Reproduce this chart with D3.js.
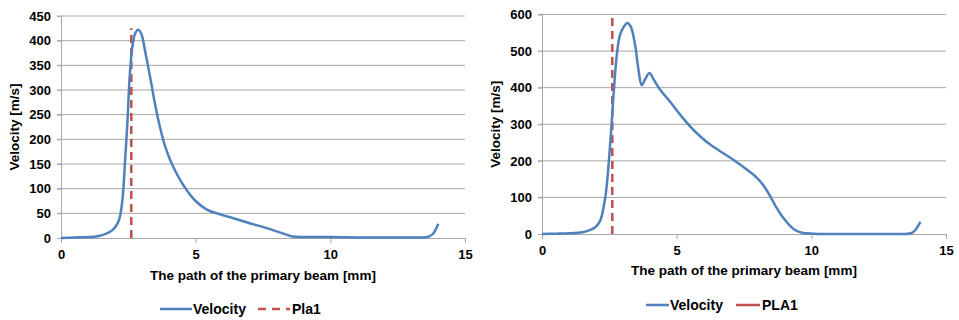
<!DOCTYPE html>
<html>
<head>
<meta charset="utf-8">
<script src="https://cdn.jsdelivr.net/npm/d3@7"></script>
<style>
  body { margin: 0; background: #fff; }
  svg { display: block; font-family: "Liberation Sans", Arial, sans-serif; }
</style>
</head>
<body>
<div id="chart"></div>
<script>
// left panel: velocity along the primary beam (Pla1)
const leftPath = [0, 0.5, 1, 1.41, 1.91, 2.15, 2.28, 2.38, 2.47, 2.55, 2.65, 2.75, 2.86, 2.98, 3.14, 3.33, 3.51, 3.7, 3.89, 4.1, 4.4, 4.67, 5.0, 5.4, 5.9, 6.4, 7.0, 7.64, 8.2, 8.6, 9.0, 10, 11, 12, 13, 13.6, 13.8, 13.9, 14.01];
const leftVel  = [0, 1, 2, 4, 16, 36, 77, 158, 239, 327, 388, 414, 422, 414, 374, 320, 266, 219, 182, 152, 120, 97, 75, 58, 48, 40, 30, 20, 10, 3, 2, 2, 1, 1, 1, 2, 8, 16, 29];
const leftPla = [[2.61, 0], [2.61, 425]];

// right panel: velocity along the primary beam (PLA1)
const rightPath = [0, 0.5, 1, 1.5, 1.75, 2.0, 2.16, 2.35, 2.53, 2.65, 2.78, 2.9, 3.05, 3.17, 3.3, 3.46, 3.58, 3.7, 3.83, 3.99, 4.14, 4.38, 4.75, 5.12, 5.49, 5.86, 6.23, 6.6, 7.1, 7.59, 7.96, 8.21, 8.46, 8.7, 8.95, 9.2, 9.44, 9.69, 10.06, 10.5, 11, 12, 13, 13.7, 13.85, 14.05];
const rightVel  = [0, 1, 2, 5, 10, 20, 36, 100, 245, 373, 491, 545, 568, 577, 566, 515, 450, 407, 423, 440, 423, 395, 362, 327, 295, 268, 245, 227, 203, 177, 155, 134, 105, 73, 45, 23, 9, 3, 1, 0, 0, 0, 0, 2, 10, 33];
const rightPla = [[2.61, 0], [2.61, 600]];

const xTicks = [0, 5, 10, 15];
const leftYTicks = [0, 50, 100, 150, 200, 250, 300, 350, 400, 450];
const rightYTicks = [0, 100, 200, 300, 400, 500, 600];

const xTitle = 'The path of the primary beam [mm]';
const yTitle = 'Velocity [m/s]';

const BLUE = '#4F81BD';
const RED = '#C0504D';
const GRID = '#A6A6A6';
const FONT = '"Liberation Sans", Arial, sans-serif';

const W = 959, H = 320;
const svg = d3.select('#chart').append('svg').attr('width', W).attr('height', H);

function styleAxis(axis) {
  axis.select('.domain').attr('stroke', GRID);
  axis.selectAll('.tick line').attr('stroke', GRID);
  axis.selectAll('text').attr('font-size', 13).attr('font-weight', 'bold')
    .attr('fill', '#000').attr('font-family', FONT);
}

function panel(cfg) {
  const x = d3.scaleLinear().domain([0, 15]).range([cfg.left, cfg.right]);
  const y = d3.scaleLinear().domain([0, cfg.yMax]).range([cfg.bottom, cfg.top]);
  const g = svg.append('g');

  // gridlines
  g.selectAll('.grid').data(cfg.yTicks.filter(d => d > 0)).join('line')
    .attr('x1', cfg.left - 4).attr('x2', cfg.right)
    .attr('y1', d => y(d)).attr('y2', d => y(d))
    .attr('stroke', GRID).attr('stroke-width', 1);

  const yAxis = g.append('g').attr('transform', `translate(${cfg.left},0)`)
    .call(d3.axisLeft(y).tickValues(cfg.yTicks).tickSize(4).tickPadding(6).tickSizeOuter(0));
  styleAxis(yAxis);

  const xAxis = g.append('g').attr('transform', `translate(0,${cfg.bottom})`)
    .call(d3.axisBottom(x).tickValues(xTicks).tickSize(5).tickPadding(7).tickSizeOuter(0));
  styleAxis(xAxis);

  // titles
  g.append('text').attr('x', (cfg.left + cfg.right) / 2).attr('y', cfg.xTitleY)
    .attr('text-anchor', 'middle').attr('font-size', 13.5).attr('font-weight', 'bold').text(xTitle);
  g.append('text').attr('transform', `translate(${cfg.yTitleX},${(cfg.top + cfg.bottom) / 2}) rotate(-90)`)
    .attr('text-anchor', 'middle').attr('font-size', 13.5).attr('font-weight', 'bold').text(yTitle);

  const line = d3.line().x(d => x(d[0])).y(d => y(d[1]));

  // Pla line
  g.append('path').datum(cfg.pla).attr('d', line)
    .attr('fill', 'none').attr('stroke', RED).attr('stroke-width', 2.5).attr('stroke-dasharray', '8,5');

  // velocity curve
  const pts = d3.zip(cfg.xs, cfg.vs);
  g.append('path').datum(pts).attr('d', line.curve(d3.curveCatmullRom.alpha(0.5)))
    .attr('fill', 'none').attr('stroke', BLUE).attr('stroke-width', 2.5).attr('stroke-linejoin', 'round');

  // legend
  const lg = g.append('g').attr('font-size', 14).attr('font-weight', 'bold');
  lg.append('line').attr('x1', cfg.leg[0]).attr('x2', cfg.leg[1]).attr('y1', cfg.legY).attr('y2', cfg.legY)
    .attr('stroke', BLUE).attr('stroke-width', 2.5);
  lg.append('text').attr('x', cfg.leg[1] + 1).attr('y', cfg.legY + 5).text('Velocity');
  lg.append('line').attr('x1', cfg.leg[2]).attr('x2', cfg.leg[3]).attr('y1', cfg.legY).attr('y2', cfg.legY)
    .attr('stroke', RED).attr('stroke-width', 2.5).attr('stroke-dasharray', cfg.legDash);
  lg.append('text').attr('x', cfg.leg[3] + 2).attr('y', cfg.legY + 5).text(cfg.plaName);
}

panel({
  left: 61, right: 465, top: 16, bottom: 238, yMax: 450, yTicks: leftYTicks,
  xs: leftPath, vs: leftVel, pla: leftPla, plaName: 'Pla1',
  xTitleY: 280, yTitleX: 19, legY: 309, leg: [160, 192, 258, 290], legDash: '8,6'
});

panel({
  left: 542, right: 946, top: 14.5, bottom: 234, yMax: 600, yTicks: rightYTicks,
  xs: rightPath, vs: rightVel, pla: rightPla, plaName: 'PLA1',
  xTitleY: 275, yTitleX: 500, legY: 305, leg: [646, 669, 736, 760], legDash: null
});
</script>
</body>
</html>
